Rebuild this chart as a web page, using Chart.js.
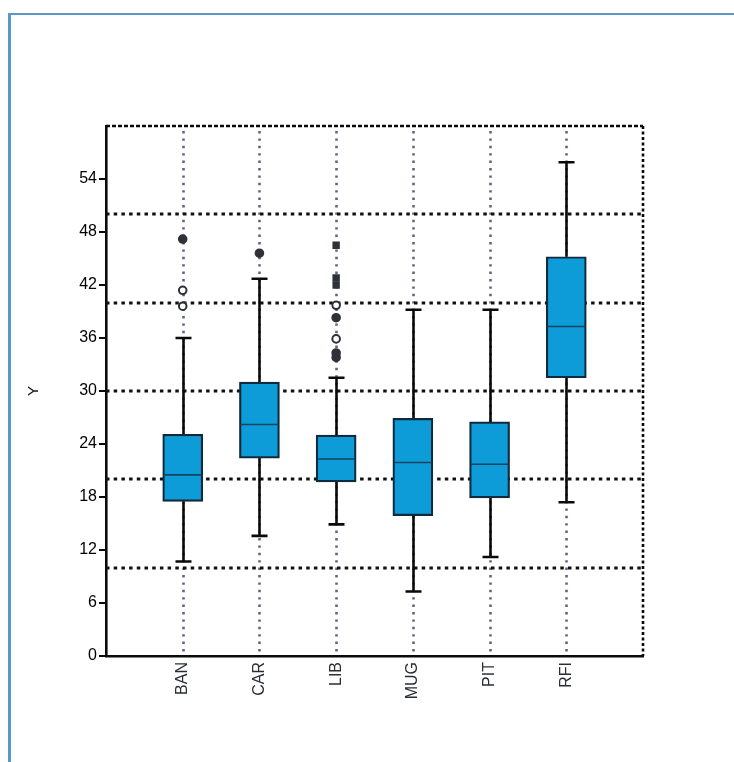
<!DOCTYPE html>
<html>
<head>
<meta charset="utf-8">
<script src="https://cdn.jsdelivr.net/npm/chart.js@4/dist/chart.umd.min.js"></script>
<style>
  html, body { margin: 0; padding: 0; background: #fff; }
  #wrap { position: relative; width: 734px; height: 762px; overflow: hidden; }
  #frame { position: absolute; left: 8px; top: 13px; width: 740px; height: 760px;
           border-left: 3px solid #5b97c9; border-top: 2px solid #5b97c9; }
  canvas { position: absolute; left: 0; top: 0; }
</style>
</head>
<body>
<div id="wrap">
  <div id="frame"></div>
  <canvas id="chart" width="734" height="762"></canvas>
</div>
<script>
// Groups along the x axis
const categories = ['BAN', 'CAR', 'LIB', 'MUG', 'PIT', 'RFI'];

// Box statistics per group
const q1          = [17.5, 22.4, 19.7, 15.9, 17.9, 31.5];
const q3          = [25.1, 31.0, 25.0, 26.9, 26.5, 45.2];
const medians     = [20.5, 26.2, 22.3, 21.9, 21.7, 37.3];
const whiskerLow  = [10.7, 13.6, 14.9,  7.3, 11.2, 17.4];
const whiskerHigh = [36.0, 42.7, 31.5, 39.2, 39.2, 55.9];

// Outlying observations
const outlierGroups = ['BAN', 'BAN', 'BAN', 'CAR', 'LIB', 'LIB', 'LIB', 'LIB', 'LIB', 'LIB', 'LIB', 'LIB'];
const outlierValues = [47.2, 41.4, 39.6, 45.6, 46.5, 42.8, 42.0, 39.7, 38.3, 35.9, 34.3, 33.8];
const outlierFilled = [true, false, false, true, true, true, true, false, true, false, true, true];
const outlierShapes = ['circle', 'circle', 'circle', 'circle', 'rect', 'rect', 'rect', 'circle', 'circle', 'circle', 'circle', 'circle'];

// Axis ticks and reference lines
const yTicks = [0, 6, 12, 18, 24, 30, 36, 42, 48, 54];
const refLines = [10, 20, 30, 40, 50];

// Empty slots on both ends keep the groups away from the frame
const labels = [''].concat(categories, ['']);
const boxData = labels.map((l, i) => {
  const k = i - 1;
  return (k >= 0 && k < categories.length) ? [q1[k], q3[k]] : null;
});
const outlierData = outlierValues.map((v, i) => ({ x: outlierGroups[i], y: v }));

const boxPlotDecor = {
  id: 'boxPlotDecor',
  beforeDatasetsDraw(chart) {
    const { ctx, chartArea: a, scales: { x, y } } = chart;
    ctx.save();
    // grey dotted lines through each group
    ctx.strokeStyle = '#5f6677';
    ctx.lineWidth = 2.6;
    ctx.lineCap = 'butt';
    ctx.setLineDash([2.4, 5]);
    categories.forEach((c, k) => {
      const px = Math.round(x.getPixelForValue(k + 1)) + 0.5;
      ctx.beginPath();
      ctx.moveTo(px, a.top + 5);
      ctx.lineTo(px, a.bottom);
      ctx.stroke();
    });
    // black dotted reference lines
    ctx.strokeStyle = '#111';
    ctx.lineWidth = 3.2;
    ctx.setLineDash([3.5, 4.2]);
    refLines.forEach(v => {
      const py = Math.round(y.getPixelForValue(v));
      ctx.beginPath();
      ctx.moveTo(a.left, py);
      ctx.lineTo(a.right, py);
      ctx.stroke();
    });
    // whiskers with caps
    ctx.setLineDash([]);
    ctx.strokeStyle = '#0a0a0a';
    ctx.lineWidth = 2.6;
    const cap = 8;
    categories.forEach((c, k) => {
      const px = Math.round(x.getPixelForValue(k + 1)) + 0.5;
      const yLo = y.getPixelForValue(whiskerLow[k]);
      const yHi = y.getPixelForValue(whiskerHigh[k]);
      const yQ1 = y.getPixelForValue(q1[k]);
      const yQ3 = y.getPixelForValue(q3[k]);
      ctx.beginPath();
      ctx.moveTo(px, yQ3); ctx.lineTo(px, yHi);
      ctx.moveTo(px, yQ1); ctx.lineTo(px, yLo);
      ctx.moveTo(px - cap, yHi); ctx.lineTo(px + cap, yHi);
      ctx.moveTo(px - cap, yLo); ctx.lineTo(px + cap, yLo);
      ctx.stroke();
    });
    ctx.restore();
  },
  afterDatasetsDraw(chart) {
    const { ctx, scales: { y } } = chart;
    const meta = chart.getDatasetMeta(0);
    ctx.save();
    ctx.strokeStyle = '#124460';
    ctx.lineWidth = 1.6;
    categories.forEach((c, k) => {
      const bar = meta.data[k + 1];
      const half = bar.width / 2;
      const py = y.getPixelForValue(medians[k]);
      ctx.beginPath();
      ctx.moveTo(bar.x - half + 1, py);
      ctx.lineTo(bar.x + half - 1, py);
      ctx.stroke();
    });
    ctx.restore();
  },
  afterDraw(chart) {
    const { ctx, chartArea: a } = chart;
    ctx.save();
    ctx.strokeStyle = '#0a0a0a';
    ctx.lineWidth = 2.6;
    ctx.setLineDash([4, 2]);
    ctx.beginPath();
    ctx.moveTo(a.left, a.top);
    ctx.lineTo(a.right, a.top);
    ctx.stroke();
    ctx.setLineDash([3, 2.5]);
    ctx.beginPath();
    ctx.moveTo(a.right, a.top);
    ctx.lineTo(a.right, a.bottom);
    ctx.stroke();
    ctx.restore();
  }
};

new Chart(document.getElementById('chart'), {
  type: 'bar',
  data: {
    labels: labels,
    datasets: [
      {
        type: 'bar',
        data: boxData,
        backgroundColor: '#0d9cd8',
        borderColor: '#102a3c',
        borderWidth: 2.2,
        borderSkipped: false,
        barThickness: 40,
        order: 2
      },
      {
        type: 'scatter',
        data: outlierData,
        pointStyle: outlierShapes,
        pointRadius: 3.8,
        pointBackgroundColor: outlierFilled.map(f => f ? '#2e3138' : '#ffffff'),
        pointBorderColor: '#2e3138',
        pointBorderWidth: 2,
        order: 1
      }
    ]
  },
  options: {
    responsive: false,
    animation: false,
    devicePixelRatio: 1,
    layout: { padding: { left: 0, top: 126, right: 91, bottom: 0 } },
    plugins: { legend: { display: false }, tooltip: { enabled: false } },
    scales: {
      x: {
        type: 'category',
        offset: false,
        afterFit(s) { s.height = 106; },
        grid: { display: false, drawTicks: false },
        border: { display: true, color: '#0a0a0a', width: 2.6 },
        ticks: {
          autoSkip: false,
          maxRotation: 90,
          minRotation: 90,
          padding: 6,
          color: '#2a2d33',
          font: { family: 'Liberation Sans, Arial, sans-serif', size: 16 }
        }
      },
      y: {
        type: 'linear',
        min: 0,
        max: 60,
        afterFit(s) { s.width = 106; },
        afterBuildTicks(s) { s.ticks = yTicks.map(v => ({ value: v })); },
        grid: { drawOnChartArea: false, drawTicks: true, tickLength: 7, color: '#0a0a0a', lineWidth: 2 },
        border: { display: true, color: '#0a0a0a', width: 2.6 },
        ticks: {
          padding: 2,
          color: '#000',
          font: { family: 'Liberation Sans, Arial, sans-serif', size: 16 }
        },
        title: {
          display: true,
          text: 'Y',
          color: '#111',
          padding: { top: 25, bottom: 0 },
          font: { family: 'Liberation Sans, Arial, sans-serif', size: 15 }
        }
      }
    }
  },
  plugins: [boxPlotDecor]
});
</script>
</body>
</html>
